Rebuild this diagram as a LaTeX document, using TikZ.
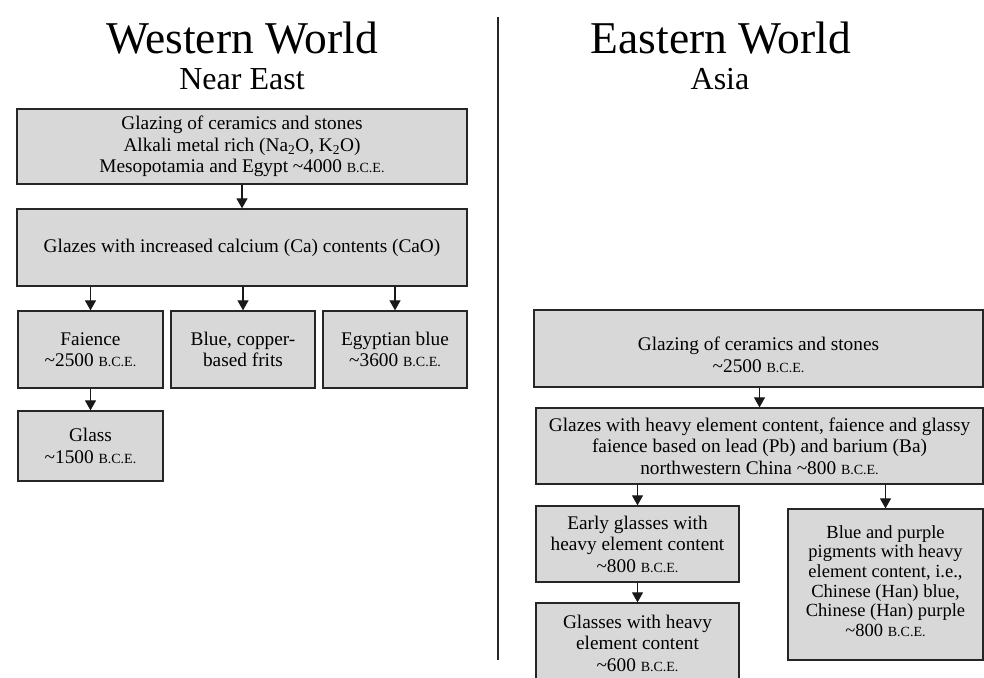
\documentclass[tikz,border=0pt]{standalone}
\usepackage{fontspec}
\setmainfont{Liberation Serif}
\usetikzlibrary{arrows.meta,calc}
\newcommand{\bce}{{\fontsize{14}{14}\selectfont B.C.E.}}
\newcommand{\tld}{\textasciitilde}
\begin{document}
\begin{tikzpicture}[x=1pt,y=-1pt,
  box/.style={draw=black!85, line width=1.3pt, fill={rgb,255:red,216;green,216;blue,216},
    align=center, inner sep=0pt, font=\fontsize{19.3}{21.5}\selectfont},
  boxtext/.style={align=center, inner sep=0pt, font=\fontsize{19.3}{21.5}\selectfont},
  arr/.style={-{Triangle[length=10pt,width=11pt]}, line width=1.2pt, draw=black!90},
  bigtitle/.style={font=\fontsize{45.5}{45.5}\selectfont, inner sep=0pt},
  subtitle/.style={font=\fontsize{32}{32}\selectfont, inner sep=0pt}]
\useasboundingbox (0,0) rectangle (984,677);
\fill[white] (0,0) rectangle (984,677);

% titles
\node[bigtitle] (tw) at (242,38) {Western World};
\node[subtitle] (ne) at (242,79) {Near East};
\node[bigtitle] (te) at (721,38) {Eastern World};
\node[subtitle] (as) at (720,79) {Asia};

% divider
\coordinate (d1) at (498,17);
\coordinate (d2) at (498,660);
\draw[line width=2pt, black!85] (d1) -- (d2);

% western boxes
\node[box, minimum width=450pt, minimum height=75pt] (b1) at (242,146.5)
  {Glazing of ceramics and stones\\Alkali metal rich (Na\textsubscript{2}O, K\textsubscript{2}O)\\Mesopotamia and Egypt \tld4000 \bce};
\node[box, minimum width=450pt, minimum height=77pt] (b2) at (242,247.5)
  {Glazes with increased calcium (Ca) contents (CaO)};
\node[box, minimum width=145pt, minimum height=77pt] (fa) at (90.5,349.5)
  {Faience\\\tld2500 \bce};
\node[box, minimum width=144pt, minimum height=77pt] (bc) at (243,349.5)
  {Blue, copper-\\based frits};
\node[box, minimum width=144pt, minimum height=77pt] (eb) at (395,349.5)
  {Egyptian blue\\\tld3600 \bce};
\node[box, minimum width=145pt, minimum height=70pt] (gl) at (90.5,446)
  {Glass\\\tld1500 \bce};

\draw[arr] (b1.south) -- (b2.north);
\draw[arr] (b2.south -| fa.north) -- (fa.north);
\draw[arr] (b2.south -| bc.north) -- (bc.north);
\draw[arr] (b2.south -| eb.north) -- (eb.north);
\draw[arr] (fa.south) -- (gl.north);

% eastern boxes
\node[box, minimum width=449pt, minimum height=77pt] (r1) at (758.5,348.5) {};
\node[boxtext] (r1t) at (758.5,355) {Glazing of ceramics and stones\\\tld2500 \bce};
\node[box, minimum width=447pt, minimum height=76pt] (r2) at (759.5,446)
  {Glazes with heavy element content, faience and glassy\\faience based on lead (Pb) and barium (Ba)\\northwestern China \tld800 \bce};
\node[box, minimum width=203pt, minimum height=76pt] (r3) at (637.5,544)
  {Early glasses with\\heavy element content\\\tld800 \bce};
\node[box, minimum width=203pt, minimum height=80pt] (r4) at (637.5,643) {};
\node[boxtext] (r4t) at (637.5,643) {Glasses with heavy\\element content\\\tld600 \bce};
\node[box, minimum width=195pt, minimum height=151pt] (r5) at (885.5,584.5) {};
\node[boxtext, font=\fontsize{18.5}{19.7}\selectfont] (r5t) at (885.5,581)
  {Blue and purple\\pigments with heavy\\element content, i.e.,\\Chinese (Han) blue,\\Chinese (Han) purple\\\tld800 \bce};

\draw[arr] (r1.south -| r2.north) -- (r2.north);
\draw[arr] (r2.south -| r3.north) -- (r3.north);
\draw[arr] (r2.south -| r5.north) -- (r5.north);
\draw[arr] (r3.south) -- (r4.north);
\end{tikzpicture}
\end{document}
